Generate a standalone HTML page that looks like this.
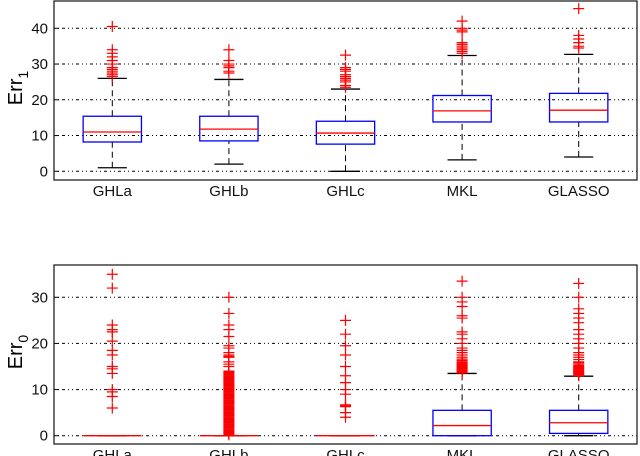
<!DOCTYPE html>
<html><head><meta charset="utf-8"><style>
html,body{margin:0;padding:0;background:#fff;}
svg{display:block;font-family:"Liberation Sans",Arial,sans-serif;}
</style></head><body>
<svg id="chart" width="640" height="456" viewBox="0 0 640 456"></svg>
<script>
const categories = ["GHLa","GHLb","GHLc","MKL","GLASSO"];
// top panel (Err1): [lowWhisker, q1, median, q3, highWhisker]
const err1Stats = [[1,8.2,11,15.4,26],[2,8.5,11.8,15.4,25.7],[0,7.6,10.7,14,23],[3.2,13.8,16.9,21.2,32.4],[4,13.8,17.1,21.8,32.7]];
const err1Outliers = [
 [26.5,27,27.5,28,28.5,29,30,31,32,33,34,40.5],
 [27.5,28,29,29.5,30,31,34],
 [23.5,24,25,25.5,26,26.5,27,28,28.5,29,32.5],
 [33,33.5,34,34.5,35,35.5,36,39,39.5,40,42],
 [34.5,35,36,37,38,45.5]];
const err1Ticks = [0,10,20,30,40];
// bottom panel (Err0)
const err0Stats = [[0,0,0,0,0],[0,0,0,0,0],[0,0,0,0,0],[0,0,2.2,5.5,13.5],[0,0.5,2.8,5.5,12.9]];
const err0Outliers = [
 [6,8.5,9.5,10,13.5,14.5,15,17.5,18.5,20.5,22.5,23,24,32,35],
 [0.2,0.4,0.6,0.8,1,1.2,1.4,1.6,1.8,2,2.2,2.4,2.6,2.8,3,3.2,3.4,3.6,3.8,4,4.2,4.4,4.6,4.8,5,5.2,5.4,5.6,5.8,6,6.2,6.4,6.6,6.8,7,7.2,7.4,7.6,7.8,8,8.2,8.4,8.6,8.8,9,9.2,9.4,9.6,9.8,10,10.2,10.4,10.6,10.8,11,11.2,11.4,11.6,11.8,12,12.2,12.4,12.6,12.8,13,13.2,13.4,13.6,13.8,14,15,15.5,16,17,17.2,17.5,18,19,19.5,21.5,23,24,26.5,30],
 [4,5,6.3,6.5,6.7,9,10,11.5,13,15,17.5,19.5,22,25],
 [13.6,13.8,14,14.2,14.4,14.6,14.8,15,15.2,15.4,15.6,15.8,16,16.3,16.6,17,17.5,18,18.5,19,20,21,22,22.5,25.5,26,28,29,30,33.5],
 [13,13.2,13.4,13.6,13.8,14,14.2,14.4,14.6,14.8,15,15.2,15.5,15.8,16,16.5,17,17.5,18,19,20,21,22,23,24.5,25.5,26.5,27.5,30,33]];
const err0Ticks = [0,10,20,30];

const NS="http://www.w3.org/2000/svg";
const svg=document.getElementById('chart');
function mk(tag,attrs,parent){const e=document.createElementNS(NS,tag);for(const k in attrs)e.setAttribute(k,attrs[k]);(parent||svg).appendChild(e);return e;}

function panel(cfg){
  const {top,bottom,y0,yRef,vRef,stats,outliers,ticks,label,sub,labelY,name}=cfg;
  const left=54,right=637;
  const g=mk('g',{});
  
  
  const y=v=>y0-(v/vRef)*(y0-yRef);
  const x=i=>left+(i+0.5)*(right-left)/categories.length;
  const unit=(right-left)/categories.length;
  ticks.forEach(t=>{
    const gl=mk('line',{x1:left,x2:right,y1:y(t),y2:y(t),stroke:'#000','stroke-width':1,'stroke-dasharray':'1 3 1 3 3 3'},g);
    
    
    const tk=mk('line',{x1:left,x2:left+5,y1:y(t),y2:y(t),stroke:'#000'},g);
    
    
    const tl=mk('text',{x:left-6,y:y(t)+5,'text-anchor':'end','font-size':15,fill:'#111'},g);
    tl.textContent=t;
    
    
  });
  categories.forEach((c,i)=>{
    const s=stats[i],cx=x(i),hw=unit*0.25,cw=unit*0.125;
    const bg=mk('g',{},g);
    
    
    if(s[4]>s[3]) mk('line',{x1:cx,x2:cx,y1:y(s[3]),y2:y(s[4]),stroke:'#000','stroke-dasharray':'6 4'},bg);
    if(s[1]>s[0]) mk('line',{x1:cx,x2:cx,y1:y(s[0]),y2:y(s[1]),stroke:'#000','stroke-dasharray':'6 4'},bg);
    mk('line',{x1:cx-cw,x2:cx+cw,y1:y(s[4]),y2:y(s[4]),stroke:'#000','stroke-width':1.3},bg);
    mk('line',{x1:cx-cw,x2:cx+cw,y1:y(s[0]),y2:y(s[0]),stroke:'#000','stroke-width':1.3},bg);
    if(s[3]>s[1]) mk('rect',{x:cx-hw,y:y(s[3]),width:2*hw,height:y(s[1])-y(s[3]),fill:'none',stroke:'#00f','stroke-width':1.3},bg);
    outliers[i].forEach(v=>{
      const p=mk('path',{d:`M${cx-5.5},${y(v)}h11M${cx},${y(v)-5.5}v11`,stroke:'#f00','stroke-width':1.2},bg);
      
      
    });
    mk('line',{x1:cx-hw,x2:cx+hw,y1:y(s[2]),y2:y(s[2]),stroke:'#f00','stroke-width':1.3},bg);
    const xl=mk('text',{x:cx,y:bottom+16,'text-anchor':'middle','font-size':15,fill:'#111'},g);
    xl.textContent=c;
    
    
  });
  const fr=mk('rect',{x:left,y:top,width:right-left,height:bottom-top,fill:'none',stroke:'#222','stroke-width':1.3},g);
  
  
  const yl=mk('text',{transform:`translate(22,${labelY}) rotate(-90)`,'text-anchor':'middle','font-size':20,fill:'#000'},g);
  
  
  yl.textContent=label;
  const ts=mk('tspan',{dy:6,'font-size':14},yl);ts.textContent=sub;
}
panel({name:'err1-panel',top:1,bottom:180,y0:171.3,yRef:28.3,vRef:40,stats:err1Stats,outliers:err1Outliers,ticks:err1Ticks,label:'Err',sub:'1',labelY:88});
panel({name:'err0-panel',top:265,bottom:444,y0:435.7,yRef:297.3,vRef:30,stats:err0Stats,outliers:err0Outliers,ticks:err0Ticks,label:'Err',sub:'0',labelY:352});
</script>
</body></html>
